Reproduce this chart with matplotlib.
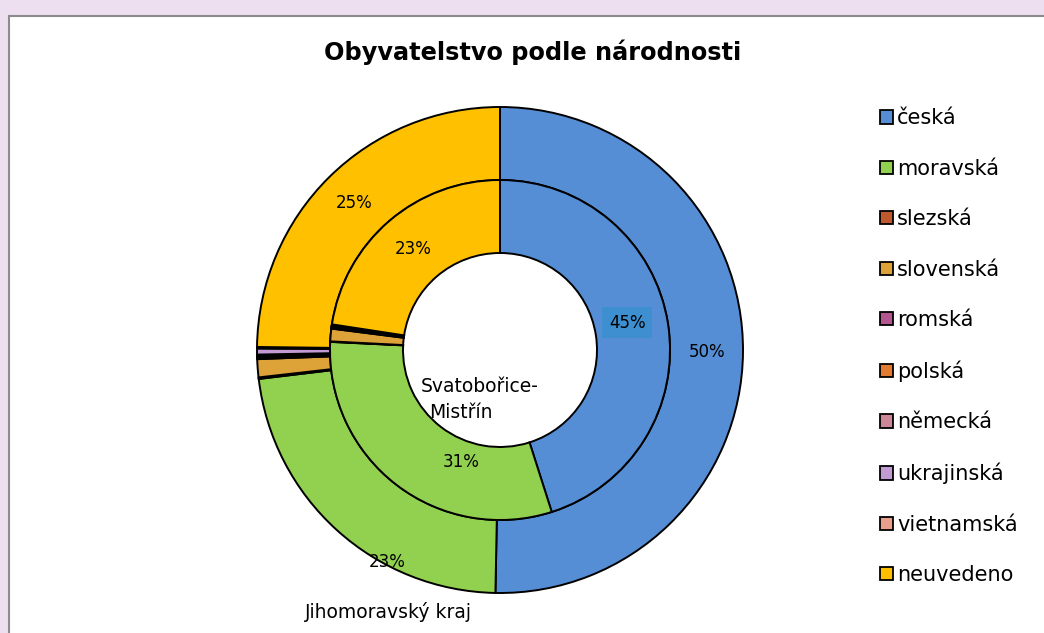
import matplotlib
matplotlib.use("Agg")
import matplotlib.pyplot as plt
from matplotlib.patches import Patch, Rectangle
import numpy as np

# data (share in %)
narodnosti = ["česká", "moravská", "slezská", "slovenská", "romská", "polská",
              "německá", "ukrajinská", "vietnamská", "neuvedeno"]
jmk = [50.3, 22.8, 0.1, 1.2, 0.1, 0.1, 0.1, 0.4, 0.1, 24.8]
svatobor = [45.1, 30.7, 0.05, 1.2, 0.1, 0.05, 0.1, 0.1, 0.05, 22.6]
barvy = ["#558ED5", "#92D050", "#C0582E", "#DDA238", "#B3558E", "#E07B2F",
         "#CC8898", "#C39BD3", "#E8A08C", "#FFC000"]

plt.rcParams['font.family'] = ['DejaVu Sans']

W, H = 1044, 633
fig = plt.figure(figsize=(W / 100, H / 100), dpi=100)
fig.patch.set_facecolor("#EDDFF0")

# white chart area with grey border
fig.patches.append(Rectangle((9 / W, -0.1), 1.2, 1 - 16 / H + 0.1, transform=fig.transFigure,
                             facecolor="white", edgecolor="#8C8C8C", linewidth=1.5, zorder=-5))

# axes where one data unit = one pixel, centre of rings at (500, 350)
ax = fig.add_axes([250 / W, (H - 600) / H, 500 / W, 500 / H])
ax.set_zorder(2)

R_out, R_mid, R_in = 243, 170, 97
wp = dict(edgecolor="black", linewidth=1.4)
w_out, _ = ax.pie(jmk, radius=R_out, colors=barvy, startangle=90, counterclock=False,
                  wedgeprops=dict(width=R_out - R_mid, **wp))
w_in, _ = ax.pie(svatobor, radius=R_mid, colors=barvy, startangle=90, counterclock=False,
                 wedgeprops=dict(width=R_mid - R_in, **wp))
ax.set_xlim(-250, 250)
ax.set_ylim(-250, 250)
ax.set_aspect("equal")
ax.axis("off")


def mid_point(w, r):
    a = np.deg2rad((w.theta1 + w.theta2) / 2)
    return r * np.cos(a), r * np.sin(a)


fs = 12
# outer ring labels
for i in [0, 9]:
    x, y = mid_point(w_out[i], 207)
    ax.text(x, y, f"{round(jmk[i])}%", ha="center", va="center", fontsize=fs)
ax.text(-113, -212, f"{round(jmk[1])}%", ha="center", va="center", fontsize=fs)

# inner ring labels
x, y = mid_point(w_in[0], 133)
ax.text(x - 4, y + 7, f"{round(svatobor[0])}%", ha="center", va="center", fontsize=fs,
        bbox=dict(boxstyle="square,pad=0.4", facecolor="#3D8FD0", edgecolor="none"))
x, y = mid_point(w_in[9], 133)
ax.text(x, y, f"{round(svatobor[9])}%", ha="center", va="center", fontsize=fs)
ax.text(-39, -112, f"{round(svatobor[1])}%", ha="center", va="center", fontsize=fs)

# series names
ax.text(-20, -37, "Svatobořice-", ha="center", va="center", fontsize=13.5)
ax.text(-39, -62, "Mistřín", ha="center", va="center", fontsize=13.5)
ax.text(-112, -262, "Jihomoravský kraj", ha="center", va="center", fontsize=13.5, clip_on=False)

fig.text(533 / W, 1 - 52 / H, "Obyvatelstvo podle národnosti", ha="center", va="center",
         fontsize=17.3, fontweight="bold")

handles = [Patch(facecolor=c, edgecolor="black", linewidth=1.3) for c in barvy]
fig.legend(handles, narodnosti, loc="upper left", bbox_to_anchor=(872 / W, 1 - 100 / H),
           frameon=False, fontsize=15, labelspacing=1.46, handlelength=0.6,
           handleheight=0.6, handletextpad=0.2, borderaxespad=0)

fig.savefig("out.png", dpi=100, facecolor=fig.get_facecolor())
